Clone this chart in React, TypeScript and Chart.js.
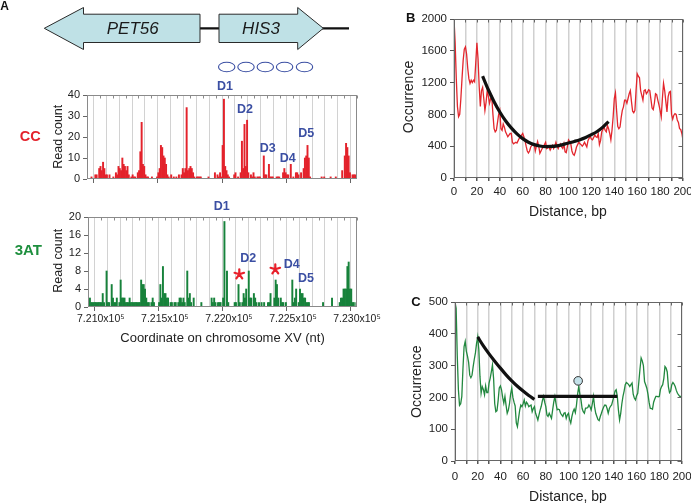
import React, { useEffect, useRef } from "react";
import { Chart, registerables } from "chart.js";
Chart.register(...registerables);

const FONT = "'Liberation Sans', Arial, Helvetica, sans-serif";
const NARROW = "'Liberation Sans Narrow', 'Liberation Sans', Arial, sans-serif";

// ---------------- Panel A data (10-nt bins from 720900 to 723000) ----------------
const coordStart = 720900;
const coordEnd = 723000;
const binSize = 10;
const coordTickValues = [721000, 721500, 722000, 722500, 723000];

const ccCounts = [
  0, 0, 0, 1, 0, 0, 2, 2, 0, 5,
  6, 4, 8, 5, 2, 2, 0, 2, 0, 0,
  1, 0, 3, 2, 6, 5, 4, 10, 7, 6,
  4, 6, 2, 0, 1, 2, 1, 1, 0, 3,
  4, 13, 27, 7, 6, 2, 1, 1, 0, 0,
  1, 0, 0, 0, 1, 3, 5, 16, 15, 11,
  10, 7, 2, 1, 0, 2, 0, 1, 0, 1,
  0, 2, 0, 2, 5, 3, 5, 34, 4, 5,
  6, 5, 3, 1, 0, 1, 1, 1, 1, 0,
  0, 0, 0, 0, 1, 0, 0, 0, 0, 3,
  0, 2, 1, 3, 1, 16, 38, 6, 4, 2,
  1, 0, 0, 0, 2, 3, 0, 1, 0, 3,
  18, 5, 26, 6, 28, 3, 0, 2, 1, 3,
  1, 0, 1, 1, 1, 0, 0, 11, 2, 2,
  0, 7, 1, 1, 1, 0, 0, 1, 1, 1,
  0, 0, 3, 5, 3, 2, 2, 0, 7, 0,
  1, 0, 3, 3, 2, 0, 3, 0, 5, 10,
  11, 16, 10, 1, 0, 0, 0, 0, 0, 0,
  0, 0, 1, 0, 1, 0, 0, 0, 0, 1,
  0, 0, 0, 1, 0, 0, 0, 0, 4, 0,
  11, 17, 15, 11, 3, 0, 2, 2, 2, 1,
];

const atCounts = [
  1, 2, 1, 1, 1, 1, 1, 1, 1, 1,
  1, 3, 1, 0, 8, 1, 1, 0, 5, 2,
  1, 1, 2, 0, 1, 6, 2, 2, 2, 1,
  1, 1, 2, 1, 1, 1, 1, 1, 1, 1,
  1, 6, 5, 5, 4, 2, 1, 1, 0, 1,
  2, 1, 0, 0, 0, 1, 5, 2, 9, 3,
  3, 2, 2, 0, 1, 1, 0, 1, 1, 0,
  1, 2, 2, 1, 2, 1, 0, 8, 2, 3,
  1, 0, 2, 0, 0, 0, 0, 0, 1, 0,
  0, 0, 0, 0, 0, 0, 2, 1, 2, 1,
  0, 1, 1, 1, 0, 2, 19, 0, 8, 1,
  0, 0, 0, 0, 1, 1, 0, 5, 1, 0,
  1, 3, 2, 4, 0, 8, 2, 2, 0, 3,
  2, 1, 0, 1, 0, 1, 0, 1, 0, 0,
  1, 1, 3, 0, 0, 2, 6, 5, 2, 0,
  2, 1, 1, 0, 1, 0, 0, 0, 0, 6,
  1, 2, 4, 0, 1, 4, 3, 3, 2, 2,
  1, 1, 1, 0, 0, 0, 0, 0, 0, 0,
  0, 0, 0, 1, 0, 0, 0, 0, 0, 0,
  2, 0, 0, 0, 0, 0, 1, 2, 2, 4,
  4, 4, 9, 10, 4, 4, 1, 1, 0, 1,
];

// ---------------- Panel B data (distance 0..200 bp) ----------------
const occurrenceB = [
  2000, 1700, 1250, 900, 770, 800, 1000, 1250, 1480, 1620,
  1650, 1560, 1380, 1250, 1190, 1230, 1200, 1230, 1210, 1450,
  1700, 1500, 1150, 900, 1100, 1140, 1000, 850, 950, 1100,
  1030, 940, 1000, 1020, 800, 620, 580, 600, 700, 800,
  850, 620, 600, 680, 640, 580, 550, 520, 540, 560,
  560, 450, 430, 440, 450, 440, 470, 500, 520, 540,
  560, 520, 470, 400, 340, 315, 340, 390, 410, 420,
  430, 340, 400, 460, 400, 310, 340, 370, 390, 420,
  450, 370, 380, 390, 350, 380, 410, 370, 400, 450,
  400, 370, 410, 430, 390, 370, 430, 330, 320, 390,
  480, 460, 430, 340, 300, 285, 330, 390, 420, 450,
  430, 420, 400, 420, 450, 420, 390, 470, 500, 520,
  490, 480, 510, 540, 520, 510, 560, 420, 470, 580,
  610, 640, 600, 580, 660, 620, 560, 480, 600, 770,
  1000, 1070, 850, 650, 620, 640, 760, 850, 895, 980,
  980, 940, 1000, 1060, 1100, 960, 840, 820, 850, 1100,
  1310, 1280, 1260, 1100, 1040, 980, 1100, 1110, 1060, 1080,
  1110, 1100, 990, 880, 860, 940, 1060, 1050, 980, 920,
  850, 770, 1000, 1190, 1100, 960, 830, 1020, 1080, 1090,
  800, 740, 790, 810, 800, 730, 700, 620, 610, 560,
  475,
];
const fitBx = [25, 30, 35, 40, 45, 50, 55, 60, 65, 70, 75, 80, 85, 90, 95, 100, 105, 110, 115, 120, 125, 130, 135];
const fitBy = [1280, 1110, 960, 830, 720, 630, 555, 495, 450, 420, 402, 395, 397, 405, 420, 440, 460, 482, 510, 545, 585, 640, 710];

// ---------------- Panel C data (distance 0..200 bp) ----------------
const occurrenceC = [
  500, 480, 330, 224, 175, 180, 203, 290, 360, 376,
  345, 330, 310, 270, 262, 270, 297, 320, 340, 370,
  390, 350, 266, 213, 234, 225, 208, 236, 215, 215,
  245, 260, 280, 302, 260, 180, 155, 158, 190, 230,
  236, 224, 200, 182, 203, 175, 150, 160, 180, 210,
  229, 200, 185, 173, 120, 108, 135, 160, 176, 171,
  180, 192, 173, 185, 180, 171, 174, 176, 155, 165,
  171, 150, 140, 129, 145, 160, 172, 190, 203, 185,
  171, 145, 140, 150, 142, 134, 160, 185, 203, 180,
  161, 163, 161, 150, 145, 140, 150, 152, 134, 145,
  150, 130, 119, 140, 155, 163, 152, 175, 210, 234,
  210, 192, 165, 155, 150, 166, 166, 168, 176, 170,
  161, 180, 203, 170, 150, 140, 130, 127, 140, 150,
  161, 170, 176, 175, 165, 150, 165, 172, 176, 190,
  203, 220, 224, 203, 160, 129, 150, 180, 203, 220,
  240, 247, 244, 240, 234, 240, 245, 210, 198, 192,
  205, 213, 250, 290, 324, 315, 300, 250, 240, 229,
  210, 185, 166, 165, 163, 185, 195, 203, 203, 202,
  203, 225, 234, 240, 260, 297, 292, 280, 234, 215,
  220, 240, 247, 242, 234, 222, 213, 208, 203, 203,
  203,
];
const fitC1x = [20, 25, 30, 35, 40, 45, 50, 55, 60, 65, 70];
const fitC1y = [390, 362, 337, 314, 292, 271, 252, 235, 220, 206, 194];
const fitC2x = [73, 143];
const fitC2y = [203, 203];
const markCx = [108.5];
const markCy = [252];

// ---------------- helpers ----------------
type Txt = { s: string; x: number; y: number; font: string; color: string; rot?: number; align?: CanvasTextAlign };

function drawTexts(ctx: CanvasRenderingContext2D, ox: number, oy: number, items: Txt[]) {
  for (const t of items) {
    ctx.save();
    ctx.translate(t.x - ox, t.y - oy);
    if (t.rot) ctx.rotate(t.rot);
    ctx.font = t.font;
    ctx.fillStyle = t.color;
    ctx.textAlign = t.align || "center";
    ctx.textBaseline = "middle";
    ctx.fillText(t.s, 0, 0);
    ctx.restore();
  }
}

function frameAndMirror(chart: any, color: string, topLen: number, rightLen: number) {
  const { ctx, chartArea: a, scales } = chart;
  ctx.save();
  ctx.strokeStyle = color;
  ctx.lineWidth = 1;
  const l = Math.round(a.left) + 0.5, r = Math.round(a.right) - 0.5;
  const t = Math.round(a.top) + 0.5, b = Math.round(a.bottom) - 0.5;
  ctx.strokeRect(l, t, r - l, b - t);
  ctx.beginPath();
  if (topLen > 0) {
    for (const tk of scales.x.ticks) {
      const px = Math.round(scales.x.getPixelForValue(tk.value)) + 0.5;
      ctx.moveTo(px, t);
      ctx.lineTo(px, t + topLen);
    }
  }
  if (rightLen > 0) {
    for (const tk of scales.y.ticks) {
      const py = Math.round(scales.y.getPixelForValue(tk.value)) + 0.5;
      ctx.moveTo(r, py);
      ctx.lineTo(r - rightLen, py);
    }
  }
  ctx.stroke();
  ctx.restore();
}

const BLUE = "#3b4fa3";
const RED = "#e3222b";
const GREEN = "#17823b";

function drawGeneDiagram(ctx: CanvasRenderingContext2D) {
  ctx.save();
  ctx.strokeStyle = "#111";
  ctx.lineWidth = 2.3;
  ctx.beginPath();
  ctx.moveTo(199, 28.3);
  ctx.lineTo(220, 28.3);
  ctx.moveTo(322, 28.3);
  ctx.lineTo(349, 28.3);
  ctx.stroke();

  ctx.fillStyle = "#bfe1e6";
  ctx.strokeStyle = "#2a2a2a";
  ctx.lineWidth = 1;
  ctx.beginPath();
  ctx.moveTo(44.3, 28.3);
  ctx.lineTo(83.5, 7.5);
  ctx.lineTo(83.5, 14.2);
  ctx.lineTo(200, 14.2);
  ctx.lineTo(200, 42.5);
  ctx.lineTo(83.5, 42.5);
  ctx.lineTo(83.5, 49.5);
  ctx.closePath();
  ctx.fill();
  ctx.stroke();

  ctx.beginPath();
  ctx.moveTo(219, 14.2);
  ctx.lineTo(297.7, 14.2);
  ctx.lineTo(297.7, 7.5);
  ctx.lineTo(323.3, 28.3);
  ctx.lineTo(297.7, 49.5);
  ctx.lineTo(297.7, 42.5);
  ctx.lineTo(219, 42.5);
  ctx.closePath();
  ctx.fill();
  ctx.stroke();

  ctx.fillStyle = "#1a1a1a";
  ctx.font = `italic 17px ${FONT}`;
  ctx.textAlign = "center";
  ctx.textBaseline = "middle";
  ctx.fillText("PET56", 132.7, 29);
  ctx.fillText("HIS3", 261, 29);

  ctx.strokeStyle = BLUE;
  ctx.lineWidth = 1.1;
  for (const cx of [226.7, 246, 265.3, 284.6, 304.5]) {
    ctx.beginPath();
    ctx.ellipse(cx, 67, 8.2, 4.8, 0, 0, Math.PI * 2);
    ctx.stroke();
  }
  ctx.restore();
}

function drawStar(ctx: CanvasRenderingContext2D, x: number, y: number) {
  ctx.save();
  ctx.strokeStyle = "#e8202a";
  ctx.lineWidth = 2.2;
  ctx.lineCap = "round";
  ctx.beginPath();
  for (let k = 0; k < 5; k++) {
    const ang = -Math.PI / 2 + (k * 2 * Math.PI) / 5;
    ctx.moveTo(x, y);
    ctx.lineTo(x + 5 * Math.cos(ang), y + 5 * Math.sin(ang));
  }
  ctx.stroke();
  ctx.restore();
}

function coordLabel(v: number) {
  return (v / 1e5).toFixed(3) + "x10\u2075";
}

// ---------------- chart configs ----------------
function barConfig(counts: number[], color: string, yMax: number, yStep: number, showX: boolean, pad: any, yWidth: number, xHeight: number, draw: (c: any) => void) {
  return {
    type: "bar" as const,
    data: {
      datasets: [
        {
          data: counts.map((v, i) => ({ x: coordStart + i * binSize + binSize / 2, y: v })),
          backgroundColor: color,
          borderWidth: 0,
          barPercentage: 1,
          categoryPercentage: 1,
        },
      ],
    },
    options: {
      responsive: false,
      animation: false as const,
      layout: { padding: pad },
      plugins: { legend: { display: false }, tooltip: { enabled: false } },
      scales: {
        x: {
          type: "linear" as const,
          min: coordStart,
          max: coordEnd,
          offset: false,
          border: { display: false },
          grid: {
            color: "#d2d2d2",
            lineWidth: 1,
            tickLength: 4,
            tickColor: (c: any) => (c.tick && coordTickValues.includes(c.tick.value) ? "#666" : "rgba(0,0,0,0)"),
          },
          ticks: {
            display: showX,
            stepSize: 100,
            autoSkip: false,
            maxRotation: 0,
            padding: 2,
            color: "#222",
            font: { family: NARROW, size: 10.5 },
            callback: (v: any) => (coordTickValues.includes(Number(v)) ? coordLabel(Number(v)) : ""),
          },
          afterFit: (s: any) => {
            s.height = xHeight;
          },
        },
        y: {
          min: 0,
          max: yMax,
          border: { display: false },
          grid: { drawOnChartArea: false, tickLength: 4, tickColor: "#666" },
          ticks: {
            stepSize: yStep,
            padding: 3,
            color: "#222",
            font: { family: FONT, size: 11 },
            callback: (v: any) => String(v),
          },
          afterFit: (s: any) => {
            s.width = yWidth;
          },
        },
      },
    },
    plugins: [
      {
        id: "extras",
        afterDraw(chart: any) {
          frameAndMirror(chart, "#8a8a8a", 3, 0);
          draw(chart);
        },
      },
    ],
  };
}

function lineConfig(datasets: any[], yMax: number, yStep: number, pad: any, yWidth: number, xHeight: number, xPad: number, draw: (c: any) => void) {
  return {
    type: "line" as const,
    data: { datasets },
    options: {
      responsive: false,
      animation: false as const,
      layout: { padding: pad },
      plugins: { legend: { display: false }, tooltip: { enabled: false } },
      scales: {
        x: {
          type: "linear" as const,
          min: 0,
          max: 200,
          border: { display: false },
          grid: { color: "#d0d0d0", lineWidth: 1.5, tickLength: 3, tickColor: "#555" },
          ticks: {
            stepSize: 10,
            autoSkip: false,
            maxRotation: 0,
            padding: xPad,
            color: "#222",
            font: { family: FONT, size: 11.5 },
            callback: (v: any) => (Number(v) % 20 === 0 ? String(v) : ""),
          },
          afterFit: (s: any) => {
            s.height = xHeight;
          },
        },
        y: {
          min: 0,
          max: yMax,
          border: { display: false },
          grid: { drawOnChartArea: false, tickLength: 4, tickColor: "#555" },
          ticks: {
            stepSize: yStep,
            padding: 3,
            color: "#222",
            font: { family: FONT, size: 11.5 },
            callback: (v: any) => String(v),
          },
          afterFit: (s: any) => {
            s.width = yWidth;
          },
        },
      },
    },
    plugins: [
      {
        id: "extras",
        afterDraw(chart: any) {
          frameAndMirror(chart, "#666", 3, 4);
          draw(chart);
        },
      },
    ],
  };
}

function ChartBox({ left, top, width, height, build }: { left: number; top: number; width: number; height: number; build: () => any }) {
  const ref = useRef<HTMLCanvasElement>(null);
  useEffect(() => {
    const chart = new Chart(ref.current as HTMLCanvasElement, build());
    return () => chart.destroy();
  }, []);
  return (
    <canvas
      ref={ref}
      width={width}
      height={height}
      style={{ position: "absolute", left, top, width, height }}
    />
  );
}

const buildCC = () =>
  barConfig(ccCounts, RED, 40, 10, false, { left: 0, top: 95, right: 33, bottom: 7 }, 87, 6, (chart: any) => {
    const ctx = chart.ctx;
    drawGeneDiagram(ctx);
    drawTexts(ctx, 0, 0, [
      { s: "A", x: 4.5, y: 7, font: `bold 12px ${FONT}`, color: "#111" },
      { s: "CC", x: 30.3, y: 136.7, font: `bold 14.5px ${FONT}`, color: RED },
      { s: "Read count", x: 58.5, y: 136.7, font: `12.5px ${FONT}`, color: "#222", rot: -Math.PI / 2 },
      { s: "D1", x: 225, y: 86.7, font: `bold 12.5px ${FONT}`, color: BLUE },
      { s: "D2", x: 245, y: 109.7, font: `bold 12.5px ${FONT}`, color: BLUE },
      { s: "D3", x: 267.7, y: 149, font: `bold 12.5px ${FONT}`, color: BLUE },
      { s: "D4", x: 287.8, y: 159, font: `bold 12.5px ${FONT}`, color: BLUE },
      { s: "D5", x: 306.3, y: 134, font: `bold 12.5px ${FONT}`, color: BLUE },
    ]);
  });

const buildAT = () =>
  barConfig(atCounts, GREEN, 20, 4, true, { left: 0, top: 22, right: 33, bottom: 18 }, 88, 30, (chart: any) => {
    const ctx = chart.ctx;
    const oy = 195;
    drawTexts(ctx, 0, oy, [
      { s: "3AT", x: 28.3, y: 251.3, font: `bold 15px ${FONT}`, color: "#1e8f3e" },
      { s: "Read count", x: 58.5, y: 260.8, font: `12.5px ${FONT}`, color: "#222", rot: -Math.PI / 2 },
      { s: "D1", x: 221.7, y: 207, font: `bold 12.5px ${FONT}`, color: BLUE },
      { s: "D2", x: 248.3, y: 259, font: `bold 12.5px ${FONT}`, color: BLUE },
      { s: "D4", x: 291.7, y: 265, font: `bold 12.5px ${FONT}`, color: BLUE },
      { s: "D5", x: 306, y: 279, font: `bold 12.5px ${FONT}`, color: BLUE },
      { s: "Coordinate on chromosome XV (nt)", x: 222.5, y: 338, font: `13px ${FONT}`, color: "#222" },
    ]);
    drawStar(ctx, 239.3, 274.3 - oy);
    drawStar(ctx, 275.3, 269.3 - oy);
  });

const buildB = () =>
  lineConfig(
    [
      {
        data: fitBx.map((x, i) => ({ x, y: fitBy[i] })),
        borderColor: "#111",
        borderWidth: 3.2,
        pointRadius: 0,
        tension: 0.4,
        cubicInterpolationMode: "monotone",
      },
      {
        data: occurrenceB.map((y, i) => ({ x: i, y })),
        borderColor: "#e3262d",
        borderWidth: 1.3,
        pointRadius: 0,
        tension: 0,
      },
    ],
    2000,
    200,
    { left: 0, top: 19, right: 27, bottom: 12 },
    54,
    40,
    4,
    (chart: any) => {
      drawTexts(chart.ctx, 400, 0, [
        { s: "B", x: 410.8, y: 18.3, font: `bold 13px ${FONT}`, color: "#111" },
        { s: "Occurrence", x: 409.5, y: 97, font: `14px ${FONT}`, color: "#222", rot: -Math.PI / 2 },
        { s: "Distance, bp", x: 568, y: 211.7, font: `14px ${FONT}`, color: "#222" },
      ]);
    }
  );

const buildC = () =>
  lineConfig(
    [
      {
        data: markCx.map((x, i) => ({ x, y: markCy[i] })),
        showLine: false,
        pointRadius: 4.3,
        pointBackgroundColor: "#c4e2ea",
        pointBorderColor: "#333",
        pointBorderWidth: 1,
      },
      {
        data: fitC1x.map((x, i) => ({ x, y: fitC1y[i] })),
        borderColor: "#111",
        borderWidth: 3.2,
        pointRadius: 0,
        tension: 0.4,
        cubicInterpolationMode: "monotone",
      },
      {
        data: fitC2x.map((x, i) => ({ x, y: fitC2y[i] })),
        borderColor: "#111",
        borderWidth: 3.2,
        pointRadius: 0,
      },
      {
        data: occurrenceC.map((y, i) => ({ x: i, y })),
        borderColor: "#22883f",
        borderWidth: 1.3,
        pointRadius: 0,
        tension: 0,
      },
    ],
    500,
    100,
    { left: 0, top: 52, right: 28, bottom: 12 },
    55,
    30,
    5.5,
    (chart: any) => {
      drawTexts(chart.ctx, 400, 250, [
        { s: "C", x: 416, y: 302, font: `bold 13px ${FONT}`, color: "#111" },
        { s: "Occurrence", x: 416.7, y: 381.7, font: `14px ${FONT}`, color: "#222", rot: -Math.PI / 2 },
        { s: "Distance, bp", x: 568, y: 496.7, font: `14px ${FONT}`, color: "#222" },
      ]);
    }
  );

export default function App() {
  return (
    <div
      style={{
        position: "absolute",
        left: 0,
        top: 0,
        width: 691,
        height: 503,
        overflow: "hidden",
        background: "#fff",
      }}
    >
      <ChartBox left={0} top={0} width={390} height={192} build={buildCC} />
      <ChartBox left={0} top={195} width={390} height={160} build={buildAT} />
      <ChartBox left={400} top={0} width={310} height={230} build={buildB} />
      <ChartBox left={400} top={250} width={310} height={253} build={buildC} />
    </div>
  );
}
